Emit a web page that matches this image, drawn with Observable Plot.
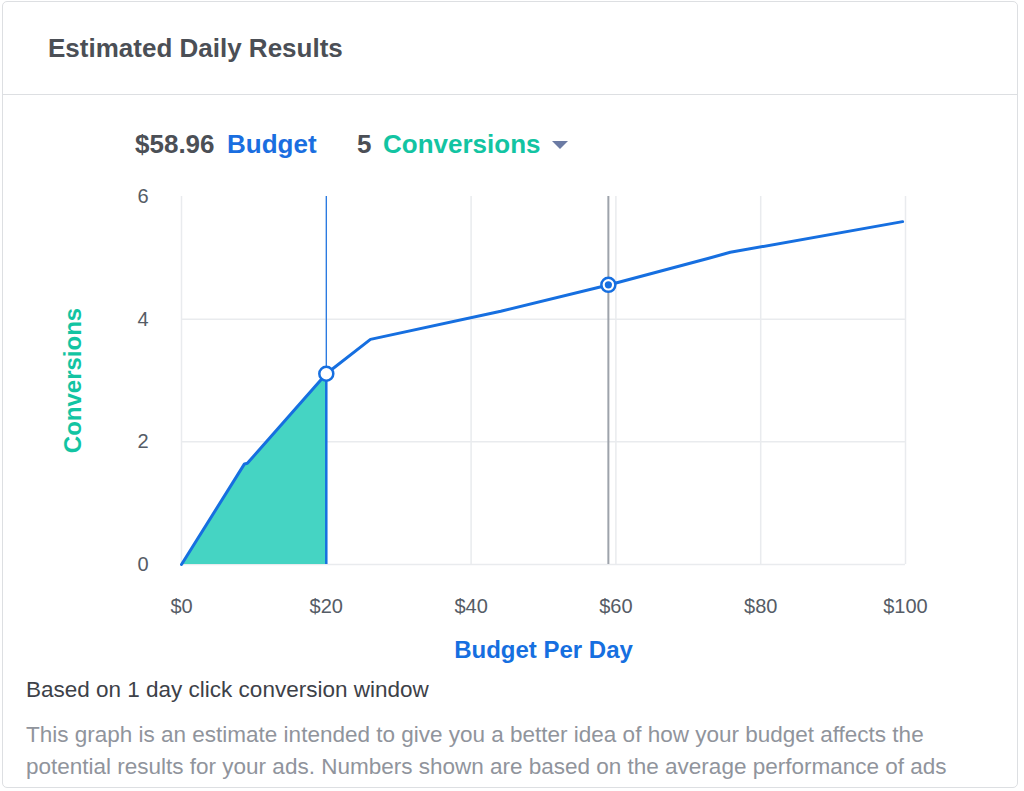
<!DOCTYPE html>
<html>
<head>
<meta charset="utf-8">
<script src="https://cdn.jsdelivr.net/npm/d3@7"></script>
<script src="https://cdn.jsdelivr.net/npm/@observablehq/plot@0.6"></script>
<style>
  html, body { margin: 0; padding: 0; background: #ffffff; width: 1024px; height: 791px; overflow: hidden; }
  body { font-family: "Liberation Sans", Arial, Helvetica, sans-serif; position: relative; }
  .card { position: absolute; left: 2px; top: 1px; width: 1014px; height: 785px; border: 1px solid #dddfe2; border-radius: 5px; background: #fff; }
  .sep { position: absolute; left: 3px; top: 94px; width: 1014px; height: 1px; background: #dddfe2; }
  .t { position: absolute; white-space: nowrap; line-height: 30px; }
  .title { left: 48px; top: 33px; font-size: 26px; font-weight: bold; color: #4b4f56; }
  .big { top: 129px; font-size: 26px; font-weight: bold; }
  .tri { position: absolute; left: 552px; top: 141px; width: 0; height: 0; border-left: 8px solid transparent; border-right: 8px solid transparent; border-top: 8px solid #6b7ba4; }
  #chart { position: absolute; left: 0; top: 170px; }
  .note { left: 26px; top: 675px; font-size: 22.5px; color: #3d4148; }
  .desc { left: 26px; font-size: 22.5px; color: #90949c; }
</style>
</head>
<body>
<div class="card"></div>
<div class="sep"></div>
<div class="t title">Estimated Daily Results</div>
<div class="t big" style="left:135px;color:#4b4f56">$58.96</div>
<div class="t big" style="left:227px;color:#1a6ee0">Budget</div>
<div class="t big" style="left:357px;color:#4b4f56">5</div>
<div class="t big" style="left:383px;color:#12c4a2">Conversions</div>
<div class="tri"></div>
<div id="chart"></div>
<div class="t note">Based on 1 day click conversion window</div>
<div class="t desc" style="top:720px">This graph is an estimate intended to give you a better idea of how your budget affects the</div>
<div class="t desc" style="top:752px">potential results for your ads. Numbers shown are based on the average performance of ads</div>
<script>
// ---- data ----
const budget      = [0, 8.7, 9.1, 20, 26.1, 44.1, 59.1, 72.7, 75.8, 99.6];
const conversions = [0, 1.64, 1.65, 3.11, 3.67, 4.13, 4.56, 4.99, 5.09, 5.59];
const xTicks = [0, 20, 40, 60, 80, 100];
const yTicks = [0, 2, 4, 6];
const yGrid = [0, 2, 4];
const selectedBudget = 20;
const selectedConversions = 3.11;
const currentBudget = 58.96;
const currentConversions = 4.56;

const data = budget.map((b, i) => ({budget: b, conv: conversions[i]}));
const areaData = data.filter(d => d.budget <= selectedBudget);

const blue = "#166fe0";
const teal = "#12c4a2";

const chart = Plot.plot({
  width: 1024,
  height: 500,
  marginLeft: 181,
  marginRight: 119,
  marginTop: 26,
  marginBottom: 106,
  style: {fontFamily: "'Liberation Sans', Arial, sans-serif", color: "#555c66", background: "transparent"},
  x: {domain: [0, 100]},
  y: {domain: [0, 6]},
  marks: [
    Plot.gridX(xTicks, {stroke: "#e9ebee", strokeOpacity: 1, strokeWidth: 1.5}),
    Plot.gridY(yGrid, {stroke: "#e9ebee", strokeOpacity: 1, strokeWidth: 1.5}),
    Plot.areaY(areaData, {x: "budget", y: "conv", fill: "#45d4c3"}),
    Plot.ruleX([selectedBudget], {stroke: blue, strokeWidth: 1.2}),
    Plot.ruleX([selectedBudget], {y1: 0, y2: selectedConversions, stroke: blue, strokeWidth: 2.5}),
    Plot.ruleX([currentBudget], {stroke: "#9ea3ab", strokeWidth: 2}),
    Plot.line(data, {x: "budget", y: "conv", stroke: blue, strokeWidth: 3, strokeLinejoin: "round"}),
    Plot.dot([{b: selectedBudget, c: selectedConversions}], {x: "b", y: "c", r: 7, fill: "white", stroke: blue, strokeWidth: 2.5}),
    Plot.dot([{b: currentBudget, c: currentConversions}], {x: "b", y: "c", r: 7, fill: "white", stroke: blue, strokeWidth: 2.5}),
    Plot.dot([{b: currentBudget, c: currentConversions}], {x: "b", y: "c", r: 3.6, fill: blue, stroke: "none"}),
    Plot.axisX(xTicks, {tickSize: 0, tickPadding: 34, fontSize: 20, tickFormat: d => "$" + d, label: null}),
    Plot.axisY(yTicks, {tickSize: 0, tickPadding: 33, fontSize: 20, tickFormat: d => String(d), label: null}),
    Plot.text(["Budget Per Day"], {frameAnchor: "bottom", lineAnchor: "middle", dy: 86, fontSize: 24, fontWeight: "bold", fill: blue}),
    Plot.text(["Conversions"], {frameAnchor: "left", textAnchor: "middle", lineAnchor: "middle", rotate: -90, dx: -108, fontSize: 24, fontWeight: "bold", fill: teal})
  ]
});
document.getElementById("chart").appendChild(chart);
</script>
</body>
</html>
